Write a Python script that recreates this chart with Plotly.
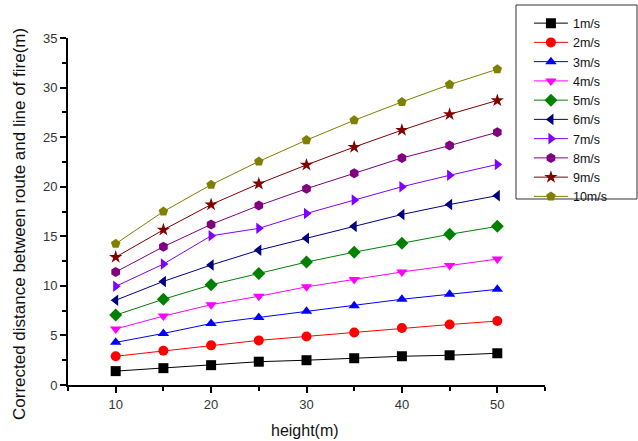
import plotly.graph_objects as go

heights = [10, 15, 20, 25, 30, 35, 40, 45, 50]
series_names = ["1m/s", "2m/s", "3m/s", "4m/s", "5m/s", "6m/s", "7m/s", "8m/s", "9m/s", "10m/s"]

v1 = [1.4, 1.7, 2.0, 2.35, 2.5, 2.7, 2.9, 3.0, 3.2]
v2 = [2.9, 3.45, 4.0, 4.5, 4.9, 5.3, 5.75, 6.1, 6.45]
v3 = [4.3, 5.2, 6.2, 6.8, 7.45, 8.0, 8.65, 9.15, 9.65]
v4 = [5.65, 6.95, 8.1, 8.95, 9.9, 10.65, 11.4, 12.05, 12.7]
v5 = [7.05, 8.65, 10.1, 11.25, 12.4, 13.4, 14.3, 15.2, 16.0]
v6 = [8.55, 10.45, 12.1, 13.6, 14.8, 16.0, 17.2, 18.2, 19.1]
v7 = [9.95, 12.2, 15.05, 15.8, 17.3, 18.65, 20.0, 21.15, 22.25]
v8 = [11.4, 13.95, 16.2, 18.1, 19.8, 21.35, 22.9, 24.15, 25.5]
v9 = [12.9, 15.65, 18.2, 20.3, 22.2, 24.0, 25.7, 27.3, 28.7]
v10 = [14.25, 17.5, 20.2, 22.55, 24.7, 26.7, 28.55, 30.3, 31.85]
values = [v1, v2, v3, v4, v5, v6, v7, v8, v9, v10]

x_title = "height(m)"
y_title = "Corrected distance between route and line of fire(m)"

colors = ["#000000", "#FF0000", "#0000FF", "#FF00FF", "#008000",
          "#000080", "#8000FF", "#800080", "#800000", "#808000"]
symbols = ["square", "circle", "triangle-up", "triangle-down", "diamond",
           "triangle-left", "triangle-right", "hexagon", "star", "pentagon"]

fig = go.Figure()
for name, vals, c, s in zip(series_names, values, colors, symbols):
    fig.add_trace(go.Scatter(
        x=heights, y=vals, name=name, mode="lines+markers",
        line=dict(color=c, width=1),
        marker=dict(symbol=s, color=c, size=10, line=dict(width=0)),
    ))

font_family = "Liberation Sans, Arial, sans-serif"
text_color = "#333333"
fig.update_layout(
    width=638, height=441,
    margin=dict(l=68, r=93, t=38, b=56, autoexpand=False),
    plot_bgcolor="white", paper_bgcolor="white",
    font=dict(family=font_family, size=13, color=text_color),
    showlegend=True,
    legend=dict(
        x=0.9663, xanchor="left", y=1.085, yanchor="top",
        bgcolor="rgba(0,0,0,0)", borderwidth=0,
        font=dict(size=12.5, color="#111111"),
        tracegroupgap=0, itemwidth=34, maxheight=400,
    ),
    shapes=[
        dict(type="rect", xref="paper", yref="paper",
             x0=0.9392, x1=1.1929, y0=0.536, y1=1.0951,
             line=dict(color="#333333", width=1), fillcolor="white", layer="below"),
    ],
    xaxis=dict(
        range=[5, 55], tickvals=[10, 20, 30, 40, 50],
        showgrid=False, zeroline=False, automargin=False,
        showline=True, linecolor="black", linewidth=2,
        ticks="outside", ticklen=6, tickwidth=2, tickcolor="black",
        minor=dict(tick0=5, dtick=5, ticks="outside", ticklen=4, tickwidth=2, tickcolor="black"),
        tickfont=dict(size=13),
    ),
    yaxis=dict(
        range=[0, 35], dtick=5, tick0=0,
        showgrid=False, zeroline=False, automargin=False,
        showline=True, linecolor="black", linewidth=2,
        ticks="outside", ticklen=6, tickwidth=2, tickcolor="black",
        minor=dict(dtick=2.5, ticks="outside", ticklen=4, tickwidth=2, tickcolor="black"),
        tickfont=dict(size=13),
    ),
    annotations=[
        dict(text=x_title, xref="paper", yref="paper", x=0.497, y=-0.13,
             xanchor="center", yanchor="middle", showarrow=False,
             font=dict(size=16, color="#111111")),
        dict(text=y_title, xref="paper", yref="paper", x=-0.1006, y=0.464,
             xanchor="center", yanchor="middle", showarrow=False, textangle=-90,
             font=dict(size=17, color="#111111")),
    ],
)

fig.write_html("out.html", config={"displayModeBar": False},
               post_script="document.body.style.margin='0px';document.body.style.overflow='hidden';")
